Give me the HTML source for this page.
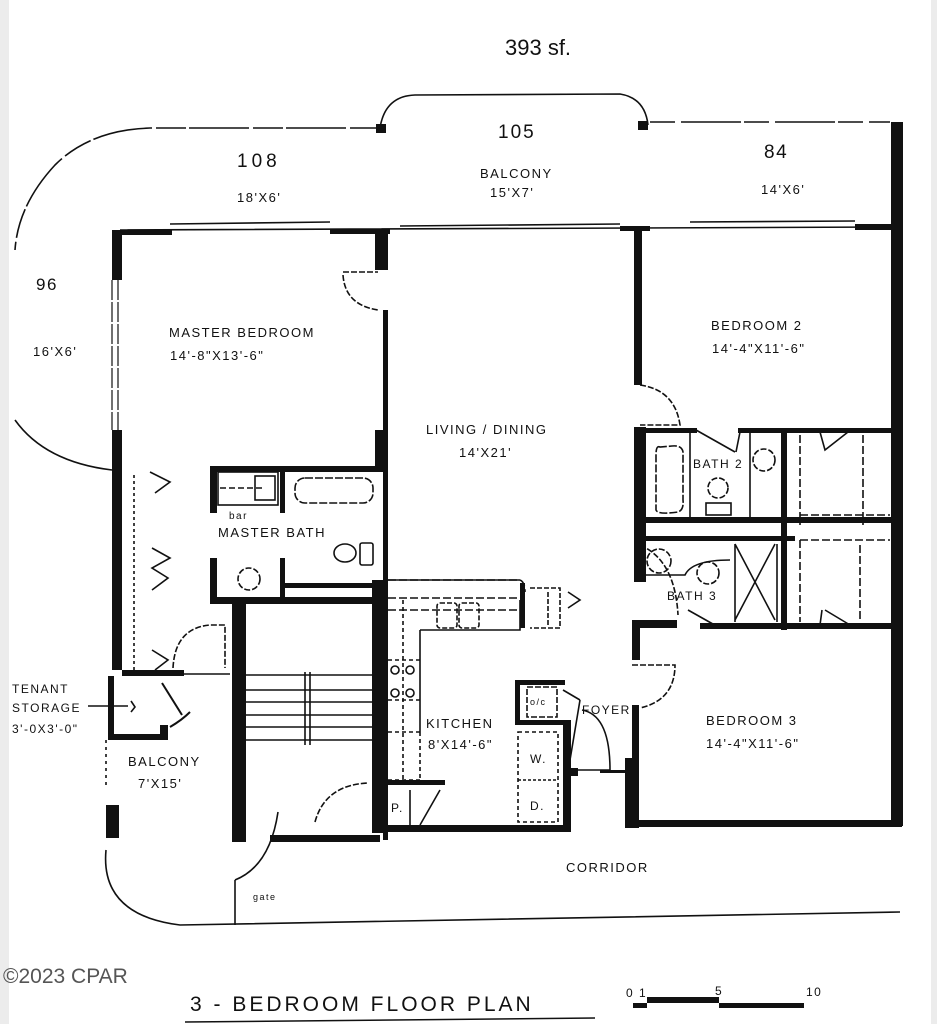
<!DOCTYPE html>
<html><head><meta charset="utf-8"><style>
html,body{margin:0;padding:0;background:#fff}
svg{display:block}
text{font-family:"Liberation Sans",sans-serif;fill:#111;letter-spacing:1.5px}
</style></head><body>
<svg width="937" height="1024" viewBox="0 0 937 1024" xmlns="http://www.w3.org/2000/svg">
<rect width="937" height="1024" fill="#fff"/>
<rect x="0" y="0" width="9" height="1024" fill="#ececec"/>
<rect x="931" y="0" width="6" height="1024" fill="#ececec"/>
<g fill="none" stroke="#111" stroke-width="1.6">
<!-- top balcony outlines -->
<path d="M380,128 L150,128 Q90,130 55,165 Q18,205 15,250" stroke-dasharray="30 4 60 3"/>
<path d="M15,420 Q45,462 112,470"/>
<path d="M380,128 Q385,96 415,95 L620,94 Q645,98 648,125"/>
<path d="M650,122 L890,122" stroke-dasharray="25 6 60 3"/>
<!-- top wall double line -->
<path d="M120,230 L890,227 M170,224 L330,222 M400,226 L620,224 M690,222 L855,221"/>
<!-- master bedroom window left -->
<path d="M112,280 L112,430 M118,280 L118,430" stroke-width="1.2" stroke-dasharray="20 2"/>
<!-- doors arcs -->
<path d="M343,272 L378,272 M343,275 Q345,305 378,310" stroke-dasharray="6 2"/>
<path d="M640,385 Q675,390 680,425 L640,425" stroke-dasharray="6 2"/>
<path d="M640,545 Q675,560 678,615" stroke-dasharray="6 2"/>
<path d="M632,665 L675,665 Q675,700 640,708" stroke-dasharray="6 2"/>
<!-- bath 2 -->
<path d="M660,447 Q656,445 656,455 L656,510 Q658,515 678,512 Q684,510 683,500 L683,452 Q682,445 672,446 Z" stroke-dasharray="8 2"/>
<circle cx="718" cy="488" r="10" stroke-dasharray="6 2"/>
<rect x="706" y="503" width="25" height="12"/>
<circle cx="764" cy="460" r="11" stroke-dasharray="6 2"/>
<path d="M690,432 L690,517 M750,432 L750,517 M696,430 L735,452 M736,452 L740,432" />
<!-- bath 3 -->
<circle cx="659" cy="561" r="12" stroke-dasharray="6 2"/>
<circle cx="708" cy="573" r="11" stroke-dasharray="6 2"/>
<path d="M640,575 L685,575 Q692,560 730,560" />
<path d="M735,544 L775,620 M775,544 L735,620 M735,544 L735,622 M777,544 L777,622"/>
<path d="M688,610 L720,628"/>
<!-- closets right -->
<path d="M800,435 L800,525 M863,435 L863,525 M800,515 L890,515 M800,540 L890,540 M800,540 L800,622 M860,545 L860,622" stroke-dasharray="8 3"/>
<path d="M820,432 L825,450 L848,432 M820,625 L822,610 M825,610 L850,625"/>
<!-- master bath fixtures -->
<rect x="218" y="472" width="60" height="33"/>
<path d="M220,488 L265,488" stroke-dasharray="6 3"/>
<rect x="255" y="476" width="20" height="24"/>
<rect x="295" y="478" width="78" height="25" rx="10" stroke-dasharray="8 2"/>
<ellipse cx="345" cy="553" rx="11" ry="9"/>
<rect x="360" y="543" width="13" height="22" rx="2"/>
<circle cx="249" cy="579" r="11" stroke-dasharray="6 2"/>
<!-- closet left -->
<path d="M134,475 L134,670" stroke-dasharray="3 3"/>
<path d="M150,472 L170,482 L155,493 M152,548 L170,558 L152,568 L168,578 L152,590 M152,650 L168,660 L155,670"/>
<path d="M173,668 Q175,628 210,625 L225,625 L225,668" stroke-dasharray="6 2"/>
<path d="M168,674 L230,674"/>
<path d="M162,683 L182,715 M170,727 Q182,720 190,712" stroke-width="2"/>
<!-- storage -->
<path d="M88,706 L128,706 M131,701 L135,707 L131,712"/>
<!-- stairs -->
<path d="M245,675 L380,675 M245,690 L380,690 M245,702 L380,702 M245,715 L380,715 M245,727 L380,727 M245,740 L380,740 M305,672 L305,745 M310,672 L310,745"/>
<path d="M315,822 Q325,785 368,783" stroke-dasharray="6 2"/>
<!-- kitchen -->
<path d="M388,580 L520,580 Q525,582 525,592 M388,598 L520,598 M388,610 L520,610" stroke-dasharray="8 3" />
<path d="M388,580 L520,580 M420,630 L520,630 L520,600 M420,630 L420,732" />
<rect x="437" y="603" width="20" height="25" rx="3" stroke-dasharray="5 2"/>
<rect x="459" y="603" width="20" height="25" rx="3" stroke-dasharray="5 2"/>
<path d="M530,588 L560,588 L560,628 L530,628 M548,592 L548,625" stroke-dasharray="5 2"/>
<path d="M568,592 L580,600 L568,608"/>
<path d="M388,660 L420,660 M388,700 L420,700 M388,732 L420,732 M388,780 L420,780 M403,600 L403,780" stroke-dasharray="4 3"/>
<circle cx="395" cy="670" r="4"/><circle cx="410" cy="670" r="4"/>
<circle cx="395" cy="693" r="4"/><circle cx="410" cy="693" r="4"/>
<path d="M420,732 L420,780" stroke-dasharray="4 3"/>
<path d="M410,790 L410,830 M420,825 L440,790" />
<rect x="518" y="732" width="40" height="90" stroke-dasharray="4 3"/>
<path d="M518,780 L558,780" stroke-dasharray="3 2"/>
<rect x="527" y="687" width="30" height="30" stroke-dasharray="6 2"/>
<path d="M563,690 L580,700 M580,700 L570,760 M582,710 Q610,715 610,770 L575,770" />
<!-- lower left balcony -->
<path d="M106,740 L106,785" stroke-dasharray="3 4"/>
<path d="M106,850 Q100,915 180,925 L900,912" />
<path d="M235,880 L235,925 M235,880 Q270,866 278,812"/>
<!-- scale / title underline -->
<path d="M185,1022 L595,1018" stroke-width="1.5"/>
</g>
<g fill="#111">
<!-- pillars -->
<rect x="376" y="124" width="10" height="9"/>
<rect x="638" y="121" width="10" height="9"/>
<!-- outer right wall -->
<rect x="891" y="122" width="12" height="704"/>
<!-- master bedroom -->
<rect x="112" y="230" width="10" height="50"/>
<rect x="112" y="230" width="60" height="5"/>
<rect x="330" y="229" width="60" height="5"/>
<rect x="375" y="230" width="13" height="40"/>
<rect x="383" y="310" width="5" height="530"/>
<rect x="375" y="430" width="12" height="40"/>
<rect x="112" y="430" width="10" height="240"/>
<!-- living right / bedroom 2 -->
<rect x="620" y="226" width="30" height="5"/>
<rect x="855" y="224" width="40" height="6"/>
<rect x="634" y="230" width="8" height="155"/>
<rect x="634" y="427" width="12" height="155"/>
<rect x="645" y="428" width="52" height="5"/>
<rect x="738" y="428" width="155" height="5"/>
<rect x="645" y="517" width="250" height="6"/>
<rect x="645" y="536" width="150" height="5"/>
<rect x="781" y="428" width="6" height="202"/>
<rect x="700" y="623" width="195" height="6"/>
<rect x="632" y="620" width="45" height="8"/>
<rect x="632" y="620" width="8" height="40"/>
<rect x="632" y="705" width="7" height="123"/>
<rect x="632" y="820" width="270" height="7"/>
<!-- master bath -->
<rect x="210" y="466" width="175" height="6"/>
<rect x="210" y="466" width="7" height="47"/>
<rect x="280" y="466" width="5" height="47"/>
<rect x="210" y="558" width="7" height="45"/>
<rect x="280" y="558" width="5" height="45"/>
<rect x="282" y="583" width="100" height="5"/>
<rect x="210" y="597" width="175" height="7"/>
<rect x="232" y="597" width="14" height="245"/>
<rect x="122" y="670" width="62" height="6"/>
<!-- storage -->
<rect x="108" y="676" width="6" height="64"/>
<rect x="110" y="734" width="58" height="6"/>
<rect x="160" y="725" width="8" height="15"/>
<rect x="106" y="805" width="13" height="33"/>
<!-- kitchen walls -->
<rect x="372" y="580" width="13" height="253"/>
<rect x="372" y="825" width="195" height="7"/>
<rect x="380" y="780" width="65" height="5"/>
<rect x="520" y="583" width="5" height="45"/>
<rect x="515" y="680" width="50" height="5"/>
<rect x="515" y="680" width="5" height="45"/>
<rect x="515" y="720" width="50" height="5"/>
<rect x="563" y="720" width="8" height="112"/>
<rect x="568" y="768" width="10" height="8"/>
<rect x="625" y="758" width="10" height="70"/>
<rect x="600" y="770" width="34" height="3"/>
<rect x="270" y="835" width="110" height="7"/>
<!-- scale bar -->
<rect x="633" y="1003" width="14" height="5"/>
<rect x="647" y="997" width="72" height="6"/>
<rect x="719" y="1003" width="85" height="5"/>
</g>
<!-- labels -->
<g font-size="13">
<text x="505" y="55" font-size="22" font-family="Liberation Serif" style="letter-spacing:0">393 sf.</text>
<text x="498" y="138" font-size="19" font-family="Liberation Serif" style="letter-spacing:2px">105</text>
<text x="237" y="167" font-size="19" font-family="Liberation Serif" style="letter-spacing:4px">108</text>
<text x="764" y="158" font-size="19" font-family="Liberation Serif">84</text>
<text x="36" y="290" font-size="17" font-family="Liberation Serif">96</text>
<text x="480" y="178">BALCONY</text>
<text x="490" y="197">15'X7'</text>
<text x="237" y="202">18'X6'</text>
<text x="761" y="194">14'X6'</text>
<text x="33" y="356">16'X6'</text>
<text x="169" y="337">MASTER BEDROOM</text>
<text x="170" y="360">14'-8"X13'-6"</text>
<text x="711" y="330">BEDROOM 2</text>
<text x="712" y="353">14'-4"X11'-6"</text>
<text x="426" y="434">LIVING / DINING</text>
<text x="459" y="457">14'X21'</text>
<text x="693" y="468" font-size="12">BATH 2</text>
<text x="667" y="600" font-size="12">BATH 3</text>
<text x="229" y="519" font-size="10">bar</text>
<text x="218" y="537">MASTER BATH</text>
<text x="12" y="693" font-size="12">TENANT</text>
<text x="12" y="712" font-size="12">STORAGE</text>
<text x="12" y="733" font-size="12">3'-0X3'-0"</text>
<text x="128" y="766">BALCONY</text>
<text x="138" y="788">7'X15'</text>
<text x="426" y="728">KITCHEN</text>
<text x="428" y="749">8'X14'-6"</text>
<text x="582" y="714" font-size="12">FOYER</text>
<text x="530" y="705" font-size="9">o/c</text>
<text x="530" y="763" font-size="12">W.</text>
<text x="530" y="810" font-size="12">D.</text>
<text x="391" y="812" font-size="12">P.</text>
<text x="706" y="725">BEDROOM 3</text>
<text x="706" y="748">14'-4"X11'-6"</text>
<text x="566" y="872">CORRIDOR</text>
<text x="253" y="900" font-size="9">gate</text>
<text x="3" y="983" font-size="21" fill="#888" style="fill:#555;letter-spacing:0">©2023 CPAR</text>
<text x="190" y="1011" font-size="21" style="letter-spacing:3px">3 - BEDROOM   FLOOR   PLAN</text>
<text x="626" y="997" font-size="12">0 1</text>
<text x="715" y="995" font-size="12">5</text>
<text x="806" y="996" font-size="12">10</text>
</g>
</svg>
</body></html>
